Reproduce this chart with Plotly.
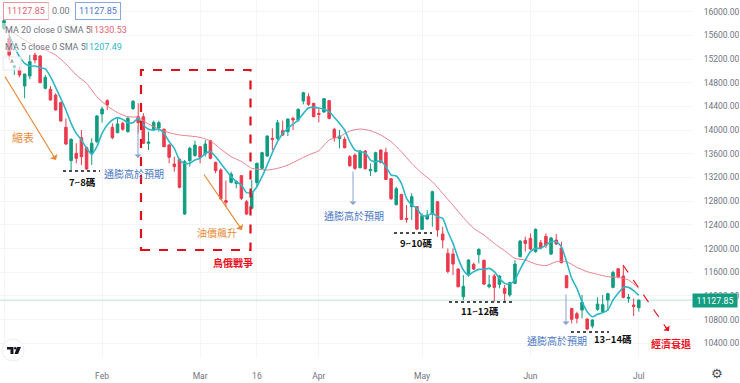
import plotly.graph_objects as go

bar_index = list(range(1, 125))
opens = [15719,15551,15060,15016,14745,14914,15269,15252,14706,14689,
14593,14464,14047,13484,13608,13873,13704,13597,13805,14273,
14498,14047,13957,14115,13974,14363,14227,14227,13777,14002,
14036,14014,13749,13428,13507,12583,13484,13569,13721,13597,
13822,13456,13327,12810,13118,13100,13231,12791,12679,13112,
13354,13562,13861,13861,13990,13973,14199,14170,14491,14565,
14452,14283,14306,14497,14013,13855,13844,13551,13579,13365,
13647,13315,13303,13664,13624,13180,12740,12915,12510,12707,
12707,12324,12498,12583,12791,12245,11918,11907,11654,11186,
11552,11733,11896,11800,11355,11536,11395,11327,11215,11412,
11862,12138,12172,11947,12099,12206,11907,12144,12008,11541,
10989,10899,10961,10809,10691,10973,10933,11130,11344,11659,
11536,11158,11046,11001]
highs = [15888,15691,15100,15072,14948,15269,15308,15270,14931,14745,
14622,14481,14199,13862,13777,14002,13721,13862,14256,14396,
14520,14115,14199,14143,14227,14509,14453,14284,13974,14160,
14160,14030,13766,13552,13524,13496,13721,13822,13732,13833,
13833,13468,13355,13150,13299,13158,13242,12819,13157,13450,
13636,13912,14030,14170,14159,14199,14227,14368,14649,14621,
14463,14368,14542,14508,14041,14002,13889,13579,13607,13664,
13664,13439,13636,13675,13703,13185,13044,12921,12735,12932,
12718,12594,12650,12977,12791,12369,12003,12003,11665,11552,
11817,11761,12003,11817,11552,11569,11552,11384,11440,11806,
12144,12200,12256,12341,12144,12256,12200,12245,12115,11552,
10989,10933,11215,10821,10804,11175,11215,11254,11626,11665,
11704,11232,11158,11140]
lows = [15691,15185,14931,14892,14537,14858,15128,14790,14689,14498,
14329,14143,13749,13327,13439,13411,13327,13411,13777,14126,
14340,13845,13946,13991,13957,14340,13946,13766,13664,13991,
13974,13710,13439,13299,13017,12567,13383,13552,13439,13552,
13507,13270,12820,12700,13101,13017,12820,12566,12662,13044,
13337,13551,13664,13833,13900,13900,14002,14142,14435,14407,
14216,14131,14294,14182,13805,13692,13692,13382,13326,13354,
13337,13225,13281,13439,13157,12819,12729,12481,12436,12481,
12313,12313,12481,12369,12200,12003,11581,11552,11344,11130,
11524,11637,11749,11384,11327,11102,11327,11102,11186,11400,
11851,11947,11975,11930,11986,12008,11890,12059,11749,11327,
10736,10736,10821,10623,10652,10950,10916,10950,11327,11496,
11158,11085,10860,10933]
closes = [15849,15269,15085,14931,14948,15156,15185,14802,14892,14509,
14340,14154,13766,13845,13524,13552,13344,13777,14239,14357,
14425,13873,14104,14014,14199,14486,14126,13777,13800,14132,
14126,13721,13541,13383,13034,13468,13693,13749,13541,13766,
13524,13315,12837,12780,13259,13130,12848,12583,12960,13439,
13619,13900,13844,14125,13917,14187,14170,14351,14632,14435,
14227,14266,14531,14199,13872,13900,13703,13399,13354,13647,
13348,13337,13619,13455,13168,12842,13011,12493,12493,12876,
12329,12555,12566,12960,12312,12144,11614,11738,11355,11361,
11806,11654,11986,11400,11389,11344,11536,11243,11423,11738,
12127,12087,11992,12324,12008,12053,12177,12076,11761,11339,
10804,10821,11091,10640,10792,11063,11051,11237,11597,11524,
11175,11175,11023,11127.85]

ma5_index = list(range(2, 125))
ma5 = [15607,15410,15241,15128,15083,15083,15055,15033,14903,14723,
14537,14340,14115,13946,13834,13693,13597,13721,13946,14087,
14171,14211,14182,14126,14126,14199,14087,14014,14002,14019,
13946,13805,13693,13496,13439,13439,13496,13524,13608,13636,
13552,13439,13327,13214,13130,13073,12945,12943,13044,13213,
13410,13619,13805,13945,14030,14103,14170,14283,14379,14384,
14373,14351,14311,14216,14114,14002,13805,13664,13636,13619,
13495,13467,13484,13382,13242,13225,13101,12847,12735,12679,
12555,12555,12594,12538,12510,12284,12087,11834,11637,11552,
11609,11648,11648,11665,11609,11496,11412,11400,11468,11648,
11806,11947,12003,12003,12059,12115,12115,12031,11778,11496,
11327,11102,10933,10849,10888,10916,10961,11130,11243,11344,
11344,11288,11207.49]

ma20_index = [1,3,6,9,11,13,15,17,19,21,23,25,27,29,31,33,35,37,39,41,43,45,47,48,49,50,52,54,
56,58,60,62,64,66,68,70,72,74,76,78,80,82,84,86,88,90,92,94,96,98,100,102,104,106,108,110,112,
114,116,118,120,122,124]
ma20 = [15760,15635,15466,15353,15269,15117,14931,14790,14565,14408,14295,14227,14216,14104,14019,
13957,13918,13901,13878,13816,13681,13552,13470,13410,13354,13343,13326,13354,
13410,13495,13579,13653,13833,13889,13985,14019,13990,13917,13805,13636,13439,13270,13129,12932,
12730,12526,12341,12228,12087,11963,11834,11806,11738,11710,11778,11778,11682,
11609,11564,11524,11513,11468,11330.53]

tick_positions = [1, 20, 39, 50, 62, 82, 103, 124]
tick_labels = ["22", "Feb", "Mar", "16", "Apr", "May", "Jun", "Jul"]
price_ticks = list(range(10400, 16001, 400))
price_labels = [f"{p}.00" for p in price_ticks]

UP = "#129c80"; DOWN = "#ea3b4e"
GREY = "#6f7480"
W, H, MR, MB = 740, 383, 47, 25
PW, PH = W - MR, H - MB
def X(p): return p / PW
def Y(p): return 1 - p / PH

fig = go.Figure()
fig.add_trace(go.Scatter(x=ma20_index, y=ma20, mode="lines",
    line=dict(color="#e8838f", width=1, shape="spline", smoothing=0.6), hoverinfo="skip"))
fig.add_trace(go.Candlestick(x=bar_index, open=opens, high=highs, low=lows, close=closes,
    increasing=dict(line=dict(color=UP, width=1), fillcolor=UP),
    decreasing=dict(line=dict(color=DOWN, width=1), fillcolor=DOWN),
    whiskerwidth=0))
fig.add_trace(go.Scatter(x=ma5_index, y=ma5, mode="lines",
    line=dict(color="#2fb7c6", width=1.6, shape="spline", smoothing=0.6), hoverinfo="skip"))

CJK = "Noto Sans CJK TC"
notes = []
shapes = []
def text(px, py, s, color, size=10, bold=False, family=CJK):
    notes.append(dict(xref="paper", yref="paper", x=X(px), y=Y(py), text=f"<b>{s}</b>" if bold else s,
                      showarrow=False, xanchor="center", yanchor="middle",
                      font=dict(family=family, size=size, color=color)))
def arrow(x0, y0, x1, y1, color, width=1.2, head=1):
    notes.append(dict(xref="paper", yref="paper", x=X(x1), y=Y(y1), ax=x0 - x1, ay=y0 - y1,
                      axref="pixel", ayref="pixel", text="", showarrow=True, arrowhead=head,
                      arrowsize=1.2, arrowwidth=width, arrowcolor=color))
def dotted(x0, x1, y):
    shapes.append(dict(type="line", xref="paper", yref="paper", x0=X(x0), x1=X(x1), y0=Y(y), y1=Y(y),
                       line=dict(color="#111", width=1.6, dash="dot")))

ORANGE = "#e98a3a"; BLUE = "#4a76c2"; RED = "#e8101c"

shapes.append(dict(type="line", xref="paper", yref="y", x0=0, x1=1, y0=closes[-1], y1=closes[-1],
                   line=dict(color="rgba(18,156,128,0.3)", width=1)))
# pale legend backing
shapes.append(dict(type="rect", xref="paper", yref="paper", x0=X(0), x1=X(122), y0=Y(52), y1=Y(23),
                   fillcolor="rgba(255,255,255,0.55)", line=dict(width=0)))
shapes.append(dict(type="rect", xref="paper", yref="paper", x0=X(3), x1=X(21), y0=Y(70), y1=Y(57),
                   fillcolor="rgba(255,255,255,0.6)", line=dict(color="#e8e9ee", width=1)))
shapes.append(dict(type="rect", xref="paper", yref="paper", x0=X(141), x1=X(250.5), y0=Y(250), y1=Y(70),
                   line=dict(color="#e0101a", width=2.2, dash="dash")))
arrow(4, 75, 56, 160, ORANGE)
arrow(203, 173, 242, 230, ORANGE)
arrow(138, 125, 138, 158, "#8aa3cc", 1)
arrow(353, 170, 353, 205, "#8aa3cc", 1)
arrow(566, 293, 566, 325, "#8aa3cc", 1)
shapes.append(dict(type="line", xref="paper", yref="paper", x0=X(623), x1=X(667), y0=Y(265), y1=Y(329),
                   line=dict(color=RED, width=1.1, dash="dash")))
arrow(664, 325, 669, 331, RED, 1.1)
dotted(63, 100, 171); dotted(394, 432, 233); dotted(449, 513, 302); dotted(571, 609, 332)

text(23, 137, "縮表", ORANGE, 11)
text(134, 173, "通膨高於預期", BLUE)
text(82, 182, "7~8碼", "#111", 9.5, True)
text(217, 232, "油價飆升", ORANGE)
text(233, 262, "烏俄戰爭", RED, 10, True)
text(354, 215, "通膨高於預期", BLUE)
text(416, 243, "9~10碼", "#111", 9.5, True)
text(480, 311, "11~12碼", "#111", 9.5, True)
text(557, 340, "通膨高於預期", BLUE)
text(613, 339, "13~14碼", "#111", 9.5, True)
text(671, 343, "經濟衰退", RED, 10, True)

# header
def box(px, s, color, border):
    notes.append(dict(xref="paper", yref="paper", x=X(px), y=Y(11.5), text=s, showarrow=False,
                      xanchor="center", yanchor="middle", font=dict(family="Roboto", size=9, color=color),
                      bordercolor=border, borderwidth=1, borderpad=3, bgcolor="white"))
box(25.5, "11127.85", "#e0616f", "#eb97a2")
box(61, "0.00", GREY, "rgba(0,0,0,0)")
box(98, "11127.85", "#4b74c9", "#8aa6e0")
def line_text(px, py, s, color, anchor="left"):
    notes.append(dict(xref="paper", yref="paper", x=X(px), y=Y(py), text=s, showarrow=False,
                      xanchor=anchor, yanchor="middle", font=dict(family="Roboto", size=9, color=color)))
line_text(3, 30.5, "MA 20 close 0 SMA 5", GREY)
line_text(87, 30.5, "11330.53", "#e0616f")
line_text(3, 46.5, "MA 5 close 0 SMA 5", GREY)
line_text(82, 46.5, "11207.49", "#2fb7c6")
line_text(8, 63, "^", GREY)

# TV mark
shapes.append(dict(type="circle", xref="paper", yref="paper", x0=X(2), x1=X(24), y0=Y(361), y1=Y(339),
                   fillcolor="white", line=dict(color="#eeeef2", width=1)))
def poly(pts):
    path = "M " + " L ".join(f"{X(a):.5f},{Y(b):.5f}" for a, b in pts) + " Z"
    shapes.append(dict(type="path", xref="paper", yref="paper", path=path, fillcolor="#131722", line=dict(width=0)))
poly([(7, 347), (13.5, 347), (13.5, 354), (10.5, 354), (10.5, 349.5), (7, 349.5)])
poly([(17, 347), (21, 347), (18, 354), (14.5, 354)])
shapes.append(dict(type="circle", xref="paper", yref="paper", x0=X(14), x1=X(16.4), y0=Y(349.4), y1=Y(347),
                   fillcolor="#131722", line=dict(width=0)))

# last price tag and gear
notes.append(dict(xref="paper", yref="y", x=X(715), y=closes[-1], text="11127.85", showarrow=False,
                  xanchor="center", yanchor="middle", width=44, height=13,
                  font=dict(family="Roboto", size=8.8, color="white"), bgcolor="#129c80", borderpad=0))
text(717, 373.5, "⚙", "#4a4e59", 13, family="DejaVu Sans")

fig.update_layout(
    width=W, height=H, margin=dict(l=0, r=MR, t=0, b=MB), autosize=False,
    paper_bgcolor="white", plot_bgcolor="white", showlegend=False,
    annotations=notes, shapes=shapes,
    xaxis=dict(range=[0.225, 134.5], rangeslider=dict(visible=False), tickmode="array",
               tickvals=tick_positions, ticktext=tick_labels, showgrid=True, gridcolor="#f5f5f7",
               gridwidth=1, zeroline=False, showline=False, ticks="outside", ticklen=10,
               tickcolor="rgba(0,0,0,0)", tickangle=0,
               tickfont=dict(family="Roboto", size=8.5, color=GREY)),
    yaxis=dict(range=[10151, 16198], side="right", tickmode="array", tickvals=price_ticks,
               ticktext=price_labels, showgrid=True, gridcolor="#f5f5f7", gridwidth=1, zeroline=False,
               showline=False, ticks="outside", ticklen=8, tickcolor="rgba(0,0,0,0)",
               tickfont=dict(family="Roboto", size=8.5, color=GREY)),
)
fig.write_html("out.html", config=dict(displayModeBar=False),
               post_script="document.body.style.margin='0';document.body.style.overflow='hidden';")
